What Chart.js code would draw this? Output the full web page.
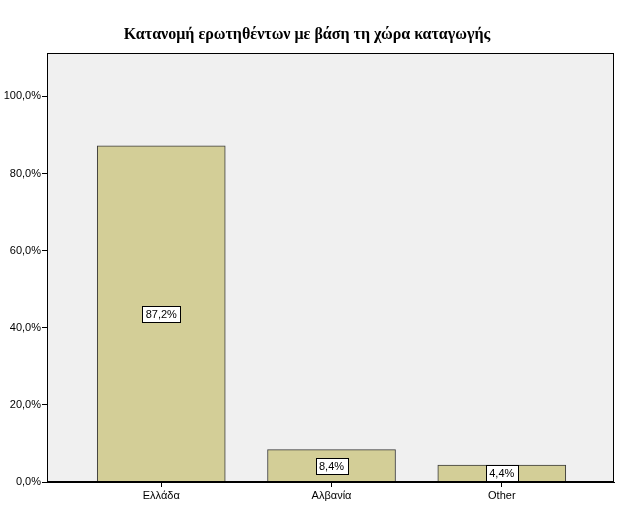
<!DOCTYPE html>
<html><head><meta charset="utf-8">
<script src="https://cdn.jsdelivr.net/npm/chart.js@4/dist/chart.umd.min.js"></script>
<style>html,body{margin:0;padding:0;background:#fff}#w{width:622px;height:508px}</style>
</head><body><div id="w"><canvas id="c"></canvas></div>
<script>
const categories = ['Ελλάδα', 'Αλβανία', 'Other'];
const values = [87.2, 8.4, 4.4];
const yTicks = [0, 20, 40, 60, 80, 100];
const titleText = 'Κατανομή ερωτηθέντων με βάση τη χώρα καταγωγής';

const fmt = v => v.toFixed(1).replace('.', ',') + '%';

const bgPlugin = {
  id: 'bg',
  beforeDraw(chart) {
    const {ctx, chartArea: a} = chart;
    ctx.save();
    ctx.fillStyle = '#f0f0f0';
    ctx.fillRect(a.left, a.top, a.right - a.left, a.bottom - a.top);
    ctx.restore();
  },
  afterDatasetsDraw(chart) {
    const {ctx, chartArea: a} = chart;
    ctx.save();
    ctx.strokeStyle = '#000';
    ctx.lineWidth = 1;
    ctx.strokeRect(Math.round(a.left) + 0.5, Math.round(a.top) + 0.5, Math.round(a.right - a.left) - 1, Math.round(a.bottom - a.top) - 1);
    const meta = chart.getDatasetMeta(0);
    ctx.font = '11px "Liberation Sans", Arial, sans-serif';
    ctx.textAlign = 'center';
    ctx.textBaseline = 'middle';
    meta.data.forEach((bar, i) => {
      const txt = fmt(values[i]);
      const cy = (bar.y + bar.base) / 2;
      const w = Math.ceil(ctx.measureText(txt).width) + 6;
      const h = 16;
      const x0 = Math.round(bar.x - w / 2) + 0.5, y0 = Math.round(cy - h / 2) + 0.5;
      ctx.fillStyle = '#fff';
      ctx.fillRect(x0, y0, w, h);
      ctx.strokeStyle = '#000';
      ctx.strokeRect(x0, y0, w, h);
      ctx.fillStyle = '#000';
      ctx.fillText(txt, bar.x, cy + 1);
    });
    ctx.restore();
  }
};

new Chart(document.getElementById('c'), {
  type: 'bar',
  data: {
    datasets: [{
      data: values.map((v, i) => ({x: i, y: v})),
      backgroundColor: '#d3ce97',
      borderColor: '#3a3a3a',
      borderWidth: 1,
      barThickness: 128
    }]
  },
  options: {
    responsive: true,
    maintainAspectRatio: false,
    animation: false,
    layout: {padding: {left: 0, right: 8, top: 0, bottom: 0}},
    plugins: {
      legend: {display: false},
      tooltip: {enabled: false},
      title: {
        display: true,
        text: titleText,
        color: '#000',
        font: {family: '"Liberation Serif", "Times New Roman", serif', size: 16, weight: 'bold'},
        padding: {top: 25, bottom: 9}
      }
    },
    scales: {
      x: {
        type: 'linear',
        offset: false,
        min: -0.671,
        max: 2.659,
        afterBuildTicks: s => { s.ticks = categories.map((c, i) => ({value: i})); },
        afterFit: s => { s.height = 26; },
        ticks: {
          autoSkip: false,
          maxRotation: 0,
          color: '#000',
          padding: 2,
          font: {family: '"Liberation Sans", Arial, sans-serif', size: 11},
          callback: v => categories[v] ?? ''
        },
        grid: {offset: false, drawOnChartArea: false, drawTicks: true, tickLength: 5, color: '#000'},
        border: {display: true, color: '#000'}
      },
      y: {
        min: 0,
        max: 111.2,
        afterBuildTicks: s => { s.ticks = yTicks.map(v => ({value: v})); },
        afterFit: s => { s.width = 47; },
        ticks: {
          color: '#000',
          padding: 1,
          font: {family: '"Liberation Sans", Arial, sans-serif', size: 11},
          callback: v => fmt(v)
        },
        grid: {drawOnChartArea: false, drawTicks: true, tickLength: 5, color: '#000'},
        border: {display: true, color: '#000'}
      }
    }
  },
  plugins: [bgPlugin]
});
</script>
</body></html>
